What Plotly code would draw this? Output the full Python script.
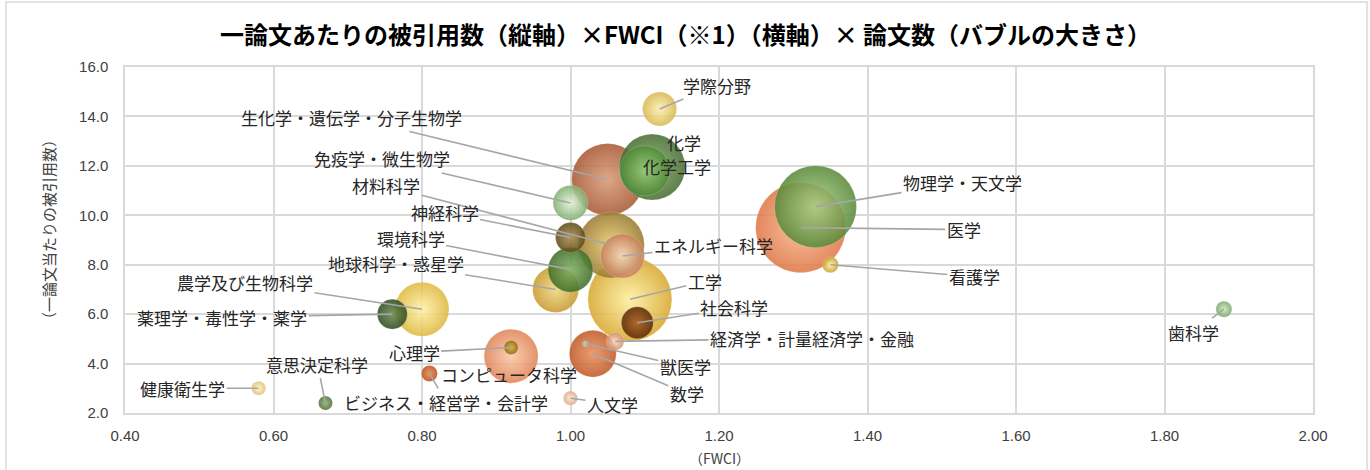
import plotly.graph_objects as go

# ---------------- data ----------------
fields = [
    "学際分野", "生化学・遺伝学・分子生物学", "化学", "化学工学", "免疫学・微生物学",
    "材料科学", "神経科学", "エネルギー科学", "環境科学", "地球科学・惑星学",
    "工学", "社会科学", "経済学・計量経済学・金融", "数学", "獣医学",
    "人文学", "心理学", "コンピュータ科学", "ビジネス・経営学・会計学", "意思決定科学",
    "健康衛生学", "薬理学・毒性学・薬学", "農学及び生物科学", "物理学・天文学", "医学",
    "看護学", "歯科学",
]
fwci = [
    1.12, 1.05, 1.11, 1.10, 1.00,
    1.055, 1.00, 1.07, 1.00, 0.98,
    1.08, 1.09, 1.06, 1.03, 1.02,
    1.00, 0.92, 0.92, 0.81, 0.67,
    0.58, 0.76, 0.80, 1.33, 1.31,
    1.35, 1.88,
]
cites_per_paper = [
    14.3, 11.45, 11.95, 11.8, 10.5,
    8.8, 9.1, 8.35, 7.8, 7.0,
    6.6, 5.65, 4.9, 4.4, 4.8,
    2.6, 4.65, 4.3, 3.6, 2.4,
    3.0, 6.0, 6.2, 10.35, 9.5,
    8.0, 6.2,
]
papers = [
    5800, 25900, 21800, 12500, 6100,
    21800, 4500, 9700, 10100, 10600,
    35300, 5100, 1600, 11000, 200,
    1000, 1000, 14600, 1300, 1000,
    1000, 4500, 14600, 33600, 40500,
    1300, 1300,
]
x_ticks = [0.40, 0.60, 0.80, 1.00, 1.20, 1.40, 1.60, 1.80, 2.00]
y_ticks = [2.0, 4.0, 6.0, 8.0, 10.0, 12.0, 14.0, 16.0]

title_text = "一論文あたりの被引用数（縦軸）×FWCI（※1）（横軸）× 論文数（バブルの大きさ）"
x_title = "（FWCI）"
y_title = "（一論文当たりの被引用数）"

# ---------------- styles ----------------
edge_colors = {
    "学際分野": "#d8b850", "生化学・遺伝学・分子生物学": "#a85a35", "化学": "#4a6e35",
    "化学工学": "#4f8a38", "免疫学・微生物学": "#7fae70", "材料科学": "#9a7a30",
    "神経科学": "#5e4a18", "エネルギー科学": "#c8805a", "環境科学": "#3f6e2a",
    "地球科学・惑星学": "#c89a30", "工学": "#d8a830", "社会科学": "#5a2a08",
    "経済学・計量経済学・金融": "#d89070", "数学": "#c05a28", "獣医学": "#98ad88",
    "人文学": "#e0a888", "心理学": "#8a6a10", "コンピュータ科学": "#e08458",
    "ビジネス・経営学・会計学": "#b85020", "意思決定科学": "#4f7035", "健康衛生学": "#e0c070",
    "薬理学・毒性学・薬学": "#2f4a1f", "農学及び生物科学": "#e0b840", "物理学・天文学": "#5a8a3a",
    "医学": "#e07848", "看護学": "#c8a030", "歯科学": "#78a868",
}
center_colors = {
    "学際分野": "#fbf0b0", "生化学・遺伝学・分子生物学": "#d99a78", "化学": "#7fa860",
    "化学工学": "#9acb7a", "免疫学・微生物学": "#e4f2d8", "材料科学": "#e8cc70",
    "神経科学": "#a88a48", "エネルギー科学": "#f5dcc0", "環境科学": "#80b060",
    "地球科学・惑星学": "#f0d880", "工学": "#fff0a0", "社会科学": "#a85a20",
    "経済学・計量経済学・金融": "#f8d8c0", "数学": "#e89060", "獣医学": "#e0e8d0",
    "人文学": "#fbe8dc", "心理学": "#d8b040", "コンピュータ科学": "#fcc8a8",
    "ビジネス・経営学・会計学": "#e8884a", "意思決定科学": "#90b070", "健康衛生学": "#fff6d0",
    "薬理学・毒性学・薬学": "#6a8a50", "農学及び生物科学": "#fff2a8", "物理学・天文学": "#a8d088",
    "医学": "#f8b890", "看護学": "#fff0a0", "歯科学": "#cfe8c0",
}
# label offset from bubble centre in pixels (dx, dy), and whether a leader line is drawn
label_layout = {
    "学際分野": (57, -24, True), "生化学・遺伝学・分子生物学": (-256, -62, True),
    "化学": (32, -25, False), "化学工学": (32, -4, False),
    "免疫学・微生物学": (-189, -44, True), "材料科学": (-225, -59, True),
    "神経科学": (-126, -25, True), "エネルギー科学": (91, -11, True),
    "環境科学": (-160, -31, True), "地球科学・惑星学": (-160, -26, True),
    "工学": (75, -18, True), "社会科学": (97, -15, True),
    "経済学・計量経済学・金融": (197, -3, True), "数学": (94, 40, True),
    "獣医学": (100, 23, True), "人文学": (42, 6, True),
    "心理学": (-97, 5, True), "コンピュータ科学": (-2, 18, False),
    "ビジネス・経営学・会計学": (17, 29, True), "意思決定科学": (-8, -39, True),
    "健康衛生学": (-76, 0, True), "薬理学・毒性学・薬学": (-170, 3, True),
    "農学及び生物科学": (-177, -27, True), "物理学・天文学": (147, -24, True),
    "医学": (163, 2, True), "看護学": (144, 12, True), "歯科学": (-30, 23, True),
}

JP = "Noto Sans CJK JP"
GRID = "#d9d9d9"

# draw larger bubbles first so smaller ones sit on top
order = sorted(range(len(fields)), key=lambda i: -papers[i])
ox = [fwci[i] for i in order]
oy = [cites_per_paper[i] for i in order]
os_ = [papers[i] for i in order]
of = [fields[i] for i in order]

fig = go.Figure()
fig.add_trace(go.Scatter(
    x=ox, y=oy, mode="markers", text=of,
    hovertemplate="%{text}<br>FWCI %{x:.2f}<br>被引用数 %{y:.1f}<extra></extra>",
    marker=dict(
        size=os_, sizemode="area", sizeref=10, sizemin=2,
        color=[edge_colors[f] for f in of],
        gradient=dict(type="radial", color=[center_colors[f] for f in of]),
        opacity=0.88,
        line=dict(width=0.6, color="rgba(255,255,255,0.35)"),
    ),
    showlegend=False,
))

annotations = []
for f, xv, yv in zip(fields, fwci, cites_per_paper):
    dx, dy, leader = label_layout[f]
    annotations.append(dict(
        x=xv, y=yv, xref="x", yref="y", text=f,
        showarrow=True, ax=dx, ay=dy, arrowhead=0, standoff=0,
        arrowwidth=1.6,
        arrowcolor="#a6a6a6" if leader else "rgba(0,0,0,0)",
        font=dict(family=JP, size=17, color="#262626"),
    ))

annotations.append(dict(
    x=(685 - 125) / 1188, y=1.0, xref="paper", yref="paper", yshift=34, text=title_text,
    showarrow=False, font=dict(family=JP, size=24, color="#000000", weight="bold"),
    xanchor="center", yanchor="middle",
))
annotations.append(dict(
    x=(48 - 125) / 1188, y=0.5 + 10 / 346, xref="paper", yref="paper", text=y_title,
    textangle=-90, showarrow=False, font=dict(family=JP, size=15, color="#404040"),
    xanchor="center", yanchor="middle",
))
annotations.append(dict(
    x=0.5, y=(413 - 458) / 346, xref="paper", yref="paper", text=x_title,
    showarrow=False, font=dict(family=JP, size=14, color="#404040"),
    xanchor="center", yanchor="middle",
))

fig.update_layout(
    width=1370, height=470,
    margin=dict(l=125, r=57, t=67, b=57),
    paper_bgcolor="white", plot_bgcolor="white",
    annotations=annotations,
    shapes=[dict(type="rect", xref="paper", yref="paper",
                 x0=(6 - 125) / 1188, x1=(1367 - 125) / 1188,
                 y0=-0.5, y1=1 + 65 / 346,
                 line=dict(color=GRID, width=1.5), layer="below")],
    xaxis=dict(
        range=[0.4, 2.0], tickvals=x_ticks, ticktext=[f"{v:.2f}" for v in x_ticks],
        showgrid=True, gridcolor=GRID, gridwidth=1.5,
        showline=True, mirror=True, linecolor=GRID, linewidth=1.5,
        zeroline=False, ticks="", ticklabelstandoff=8,
        tickfont=dict(family="Liberation Sans", size=15, color="#404040"),
    ),
    yaxis=dict(
        range=[2.0, 16.0], tickvals=y_ticks, ticktext=[f"{v:.1f}" for v in y_ticks],
        showgrid=True, gridcolor=GRID, gridwidth=1.5,
        showline=True, mirror=True, linecolor=GRID, linewidth=1.5,
        zeroline=False, ticks="", ticklabelstandoff=12,
        tickfont=dict(family="Liberation Sans", size=15, color="#404040"),
    ),
)

fig.write_html("out.html")
